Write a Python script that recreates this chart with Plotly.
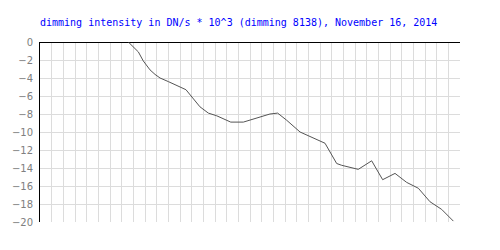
import plotly.graph_objects as go

x_vals = [7.57, 8.0, 8.43, 8.85, 9.43, 9.86, 10.29, 11.0, 12.09, 12.51, 13.71, 14.43,
          15.15, 16.35, 17.43, 18.28, 19.71, 20.37, 21.15, 22.29, 23.14, 24.43, 25.43,
          25.86, 27.28, 28.43, 29.37, 30.43, 31.43, 32.43, 33.43, 34.43, 35.43]
y_vals = [0.0, -0.56, -1.1, -2.1, -3.1, -3.6, -4.0, -4.4, -5.0, -5.3, -7.2, -7.9,
          -8.2, -8.9, -8.9, -8.55, -8.0, -7.9, -8.7, -10.0, -10.5, -11.25, -13.5,
          -13.7, -14.15, -13.2, -15.3, -14.6, -15.6, -16.25, -17.75, -18.6, -19.9]
y_ticks = [0, -2, -4, -6, -8, -10, -12, -14, -16, -18, -20]
title_text = "dimming intensity in DN/s * 10^3 (dimming 8138), November 16, 2014"

fig = go.Figure(go.Scatter(x=x_vals, y=y_vals, mode="lines",
                           line=dict(color="#555555", width=1)))
fig.update_layout(
    width=500, height=250,
    margin=dict(l=40, r=40, t=42, b=28),
    paper_bgcolor="white", plot_bgcolor="white",
    showlegend=False,
    title=dict(text=title_text, x=40/500, xanchor="left", y=1-22.5/250, yanchor="middle",
               font=dict(family="DejaVu Sans Mono", size=10, color="#0000ff")),
)
fig.update_xaxes(range=[0, 36], dtick=1, tick0=0, showticklabels=False,
                 showgrid=True, gridcolor="#dcdcdc", gridwidth=1, zeroline=False,
                 showline=False, ticks="")
fig.update_yaxes(range=[-20, 0], tickvals=y_ticks, ticktext=[str(v).replace("-", "\u2212") for v in y_ticks],
                 showgrid=True, gridcolor="#dcdcdc", gridwidth=1,
                 zeroline=True, zerolinecolor="black", zerolinewidth=1,
                 showline=True, linecolor="black", linewidth=1, mirror=False,
                 ticks="", ticklabelstandoff=4,
                 tickfont=dict(family="DejaVu Sans", size=10, color="#808080"))
fig.write_html("out.html")
